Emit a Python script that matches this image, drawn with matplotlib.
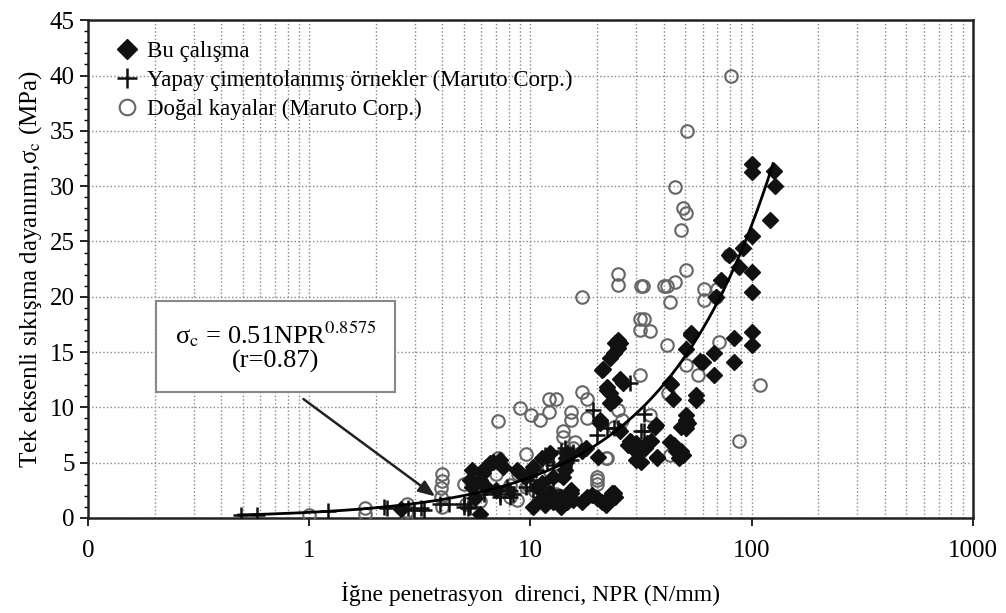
import numpy as np
import matplotlib
matplotlib.use("Agg")
import matplotlib.pyplot as plt
from matplotlib.ticker import MultipleLocator, LogLocator, NullFormatter

plt.rcParams['font.family'] = ['Liberation Serif', 'DejaVu Serif']
plt.rcParams['mathtext.fontset'] = 'stix'

# Bu çalışma (NPR, sigma_c)
bu_x = [2.6, 5.45, 5.35, 5.45, 5.6, 5.9, 5.9, 6.1, 6.3, 6.6, 6.8, 7.3, 7.5, 6.3, 7.0,
        8.7, 9.0, 9.5, 10.0, 10.3, 11.3, 12.3, 14.7, 14.4, 12.6, 10.7, 11.3,
        10.3, 11.1, 11.7, 12.3, 12.6, 13.7, 15.2, 15.6, 15.2, 14.7, 13.7, 17.1, 18.1,
        19.0, 20.0, 21.0, 22.2, 23.4, 24.2, 21.9, 23.8,
        14.5, 14.4, 14.0, 20.3, 17.8, 17.1,
        20.7, 20.7, 21.3, 22.2, 22.9, 23.8, 22.9, 22.3,
        24.2, 25.0, 25.5, 24.8, 23.8, 22.9, 25.5, 26.2, 21.0,
        25.5, 28.3, 27.7, 29.9, 30.6, 29.9, 31.6, 33.0, 33.7, 35.1, 36.6, 37.4, 28.5, 30.0,
        36.8, 42.8, 43.9, 43.4,
        42.8, 44.4, 47.9, 49.1, 47.9, 50.5, 51.7, 50.5, 50.5, 45.5, 47.0, 37.2,
        55.8, 55.8, 53.0, 50.5, 53.0,
        60.0, 67.4, 67.4, 83.0, 83.0, 58.7,
        72.4, 68.7, 78.9, 88.0, 91.6, 100, 100, 100, 100, 100,
        100, 100, 126, 127, 121]
bu_y = [0.8, 4.3, 3.4, 2.8, 1.8, 0.4, 3.4, 4.1, 4.6, 5.0, 5.1, 5.2, 4.6, 2.8, 2.5,
        4.3, 4.1, 3.7, 4.1, 4.6, 5.4, 5.9, 5.9, 5.0, 3.7, 2.8, 3.2,
        1.0, 1.6, 1.2, 2.3, 1.4, 1.0, 2.5, 1.6, 2.3, 1.4, 1.9, 1.4, 1.9,
        2.1, 1.8, 1.4, 1.6, 2.3, 1.9, 1.2, 2.3,
        5.4, 4.3, 3.7, 5.5, 6.3, 6.1,
        8.6, 8.9, 13.5, 11.8, 11.3, 10.7, 10.4, 11.6,
        15.8, 16.1, 15.8, 15.4, 14.9, 14.5, 12.6, 12.2, 13.4,
        7.9, 7.0, 6.6, 6.8, 5.9, 5.2, 5.1, 6.3, 6.8, 7.0, 8.2, 5.5, 6.9, 6.1,
        8.4, 12.2, 10.8, 12.1,
        6.9, 6.6, 6.1, 5.7, 8.2, 8.9, 8.6, 9.3, 8.1, 6.1, 5.4, 5.4,
        11.1, 10.7, 16.5, 15.3, 16.7,
        14.1, 14.9, 12.9, 14.1, 16.3, 14.2,
        21.5, 20.0, 23.8, 22.7, 24.4, 25.5, 22.2, 20.4, 16.8, 15.6,
        32.0, 31.3, 31.4, 30.0, 26.9]

# Doğal kayalar (Maruto Corp.)
dk_x = [1.0, 1.79, 1.79, 2.77, 2.77, 2.77,
        3.98, 4.0, 3.95, 3.95, 3.98, 5.0, 5.1, 5.9, 5.9,
        7.1, 7.1, 7.0, 8.8, 9.6, 10.6, 10.9, 13.4, 8.1, 8.1, 9.8, 13.0, 9.6, 10.5, 8.7,
        9.0, 10.1, 11.1, 12.1, 12.1, 13.0,
        14.1, 14.1, 15.9, 15.6, 15.2, 15.2, 18.0, 17.1, 18.0, 17.1,
        20.0, 20.0, 20.0, 22.3, 21.9,
        25.0, 26.0, 23.8, 34.8, 31.2, 42.0, 42.8,
        25.0, 25.0, 31.6, 32.4, 40.2, 41.5, 44.9, 50.5, 42.8,
        31.3, 32.6, 31.3, 34.8, 41.5,
        44.9, 49.2, 50.5, 48.1, 51.3, 80.4,
        61, 61, 69.7, 68.7, 78.9,
        50.5, 57.2, 70.9, 109, 87.4]
dk_y = [0.3, 0.9, 0.4, 1.3, 0.6, 0.3,
        4.0, 3.3, 2.7, 1.9, 1.0, 3.1, 1.3, 3.1, 1.5,
        8.8, 5.4, 4.0, 4.0, 5.8, 4.6, 3.7, 3.9, 3.0, 1.9, 3.0, 2.2, 2.8, 2.4, 1.6,
        9.9, 9.3, 8.9, 9.6, 10.8, 10.8,
        7.9, 7.3, 6.9, 6.3, 9.6, 8.9, 9.0, 11.4, 10.8, 20.0,
        3.7, 3.1, 3.4, 5.4, 5.4,
        9.8, 8.9, 8.2, 9.3, 12.9, 11.3, 5.7,
        22.1, 21.1, 21.0, 21.0, 21.0, 21.0, 21.3, 22.4, 19.5,
        18.0, 18.0, 17.0, 16.9, 15.6,
        29.9, 28.0, 27.6, 26.0, 35.0, 40.0,
        20.7, 19.7, 20.7, 20.0, 23.8,
        13.8, 12.9, 15.9, 12.0, 7.0]

# Yapay çimentolanmış örnekler (Maruto Corp.)
yc_x = [0.49, 0.58, 1.22, 2.17, 2.25, 2.97, 3.29, 2.8, 3.2,
        3.9, 4.3, 5.0, 5.2, 5.0, 5.35,
        6.2, 7.3, 8.1, 8.1, 7.3, 8.0, 8.3, 7.8,
        10.0, 9.6, 10.3, 11.9, 12.7, 11.1, 10.6,
        12.1, 11.9, 12.6, 11.6, 13.7, 14.7, 15.6, 14.1, 14.4, 15.2, 15.6,
        19.2, 20.0, 22.3, 23.8, 25.0,
        28.3, 32.6, 32.6, 31.6]
yc_y = [0.3, 0.3, 0.6, 1.0, 0.9, 0.7, 0.7, 0.9, 0.9,
        1.3, 1.3, 1.3, 0.9, 1.0, 1.0,
        2.2, 1.9, 2.4, 1.9, 2.2, 2.5, 2.2, 2.8,
        3.4, 2.8, 2.5, 2.4, 2.5, 1.6, 4.3,
        5.8, 5.1, 4.8, 5.7, 6.1, 5.8, 6.0, 4.9, 6.3, 5.2, 5.7,
        9.8, 7.5, 8.1, 8.1, 8.1,
        12.2, 9.4, 7.9, 7.9]

# fitted relation shown on the chart: sigma_c = 0.51 NPR^0.8575
fit_a = 0.51
fit_b = 0.8575
fit_range = (0.48, 125)

x_ticks = [0.1, 1, 10, 100, 1000]
x_ticklabels = ['0', '1', '10', '100', '1000']

fig = plt.figure(figsize=(10.06, 6.13), dpi=100)
ax = fig.add_axes([0.0875, 0.155, 0.8795, 0.812])

ax.plot(dk_x, dk_y, 'o', mfc='none', mec='#666666', mew=1.5, ms=9,
        ls='none', label='Doğal kayalar (Maruto Corp.)', zorder=3)
ax.plot(yc_x, yc_y, '+', color='#111111', mew=1.8, ms=11,
        ls='none', label='Yapay çimentolanmış örnekler (Maruto Corp.)', zorder=4)
ax.plot(bu_x, bu_y, 'D', color='#111111', ms=8.5,
        ls='none', label='Bu çalışma', zorder=5)

xf = np.logspace(np.log10(fit_range[0]), np.log10(fit_range[1]), 200)
ax.plot(xf, fit_a * xf ** fit_b, color='black', lw=2, zorder=6)

ax.set_xscale('log')
ax.set_xlim(0.1, 1000)
ax.set_ylim(0, 45)
ax.set_xticks(x_ticks)
ax.set_xticklabels(x_ticklabels)
ax.xaxis.set_minor_locator(LogLocator(base=10, subs=np.arange(2, 10)))
ax.xaxis.set_minor_formatter(NullFormatter())
ax.yaxis.set_major_locator(MultipleLocator(5))
ax.yaxis.set_minor_locator(MultipleLocator(1))

ax.grid(True, which='major', axis='y', ls=':', color='#888888', lw=1)
ax.grid(True, which='both', axis='x', ls=':', color='#888888', lw=1)
ax.set_axisbelow(True)

ax.tick_params(axis='both', which='major', labelsize=18, direction='out', length=6, width=1.2)
ax.tick_params(axis='x', which='minor', length=0)
ax.tick_params(axis='y', which='minor', direction='out', length=3, width=1)
ax.tick_params(axis='x', pad=10)
for s in ax.spines.values():
    s.set_linewidth(1.8)
    s.set_color('#222222')

ax.set_xlabel('İğne penetrasyon  direnci, NPR (N/mm)', fontsize=17, labelpad=14)
ax.set_ylabel('Tek eksenli sıkışma dayanımı,σ$_{\\rm c}$ (MPa)', fontsize=18, labelpad=4)

h, l = ax.get_legend_handles_labels()
ax.legend(h[::-1], l[::-1], loc='upper left', bbox_to_anchor=(0.01, 1.0), frameon=False,
          fontsize=16.5, handlelength=0.8, handletextpad=0.5, labelspacing=0.35,
          borderaxespad=0.5, markerscale=1.25)

ax.annotate('', xy=(3.8, 1.8), xytext=(0.92, 10.9),
            arrowprops=dict(arrowstyle='-|>,head_length=1.0,head_width=0.4',
                            color='#222222', lw=1.8), zorder=7)
ax.text(0.212, 0.345, 'σ$_{\\rm c}$ = 0.51NPR$^{0.8575}$\n(r=0.87)',
        transform=ax.transAxes, ha='center', va='center', fontsize=19,
        linespacing=1.05, zorder=8,
        bbox=dict(boxstyle='square,pad=0.7', fc='white', ec='#888888', lw=1.5))

fig.savefig('out.png', dpi=100)
